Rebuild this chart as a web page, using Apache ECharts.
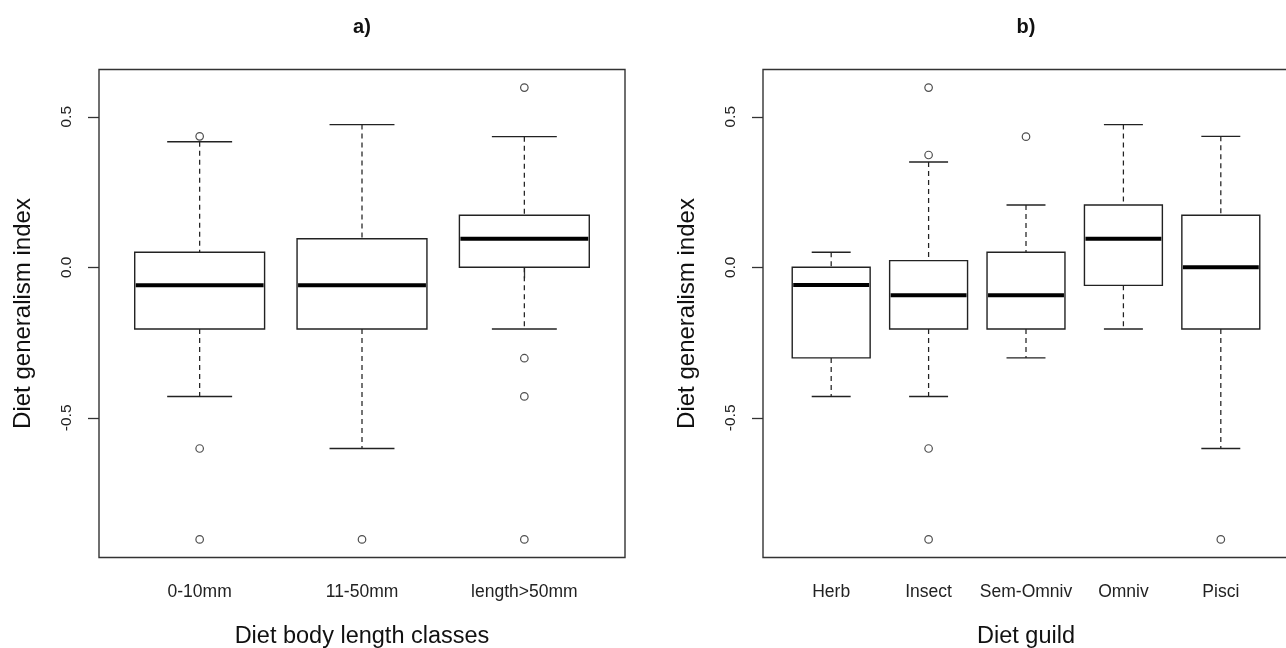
<!DOCTYPE html>
<html>
<head>
<meta charset="utf-8">
<script src="https://cdn.jsdelivr.net/npm/echarts@6/dist/echarts.min.js"></script>
<style>
html,body{margin:0;padding:0;background:#fff;}
#chart{width:1286px;height:648px;}
</style>
</head>
<body>
<div id="chart"></div>
<script>
// ---- Panel a) : Diet body length classes ----
const catsA = ['0-10mm', '11-50mm', 'length>50mm'];
const lowA  = [-0.429, -0.602, -0.205];
const q1A   = [-0.205, -0.205, 0.0];
const medA  = [-0.06, -0.06, 0.095];
const q3A   = [0.05, 0.095, 0.173];
const highA = [0.417, 0.474, 0.434];
const outCatA = [1, 1, 1, 2, 3, 3, 3, 3];
const outValA = [0.435, -0.602, -0.904, -0.904, 0.597, -0.302, -0.429, -0.904];

// ---- Panel b) : Diet guild ----
const catsB = ['Herb', 'Insect', 'Sem-Omniv', 'Omniv', 'Pisci'];
const lowB  = [-0.429, -0.429, -0.301, -0.205, -0.602];
const q1B   = [-0.301, -0.205, -0.205, -0.06, -0.205];
const medB  = [-0.059, -0.093, -0.093, 0.095, 0.0];
const q3B   = [0.0, 0.022, 0.05, 0.207, 0.173];
const highB = [0.05, 0.35, 0.207, 0.474, 0.435];
const outCatB = [2, 2, 2, 2, 3, 5];
const outValB = [0.597, 0.373, -0.602, -0.904, 0.434, -0.904];

const yTicks = [-0.5, 0, 0.5];
const titles = ['a)', 'b)'];
const xTitles = ['Diet body length classes', 'Diet guild'];
const yTitle = 'Diet generalism index';

// ---- build ----
const FONT = '"Liberation Sans", Arial, sans-serif';
const INK = '#222';

const allVals = [].concat(lowA, highA, outValA, lowB, highB, outValB);
const dMin = Math.min.apply(null, allVals), dMax = Math.max.apply(null, allVals);
const yPad = 0.04 * (dMax - dMin);
const yMin = dMin - yPad, yMax = dMax + yPad;

function boxData(low, q1, med, q3, high) {
  return low.map((v, i) => [i + 1, low[i], q1[i], med[i], q3[i], high[i]]);
}
function outData(cats, vals) {
  return cats.map((c, i) => [c, vals[i]]);
}

function renderBox(params, api) {
  const x = api.value(0);
  const lo = api.coord([x, api.value(1)]);
  const q1 = api.coord([x, api.value(2)]);
  const md = api.coord([x, api.value(3)]);
  const q3 = api.coord([x, api.value(4)]);
  const hi = api.coord([x, api.value(5)]);
  const bw = api.size([0.8, 0])[0];
  const sw = api.size([0.4, 0])[0];
  const cx = lo[0];
  const dash = {stroke: INK, lineWidth: 1.25, lineDash: [5, 4], fill: null};
  const solid = {stroke: INK, lineWidth: 1.4, fill: null};
  return {
    type: 'group',
    children: [
      {type: 'line', shape: {x1: cx, y1: hi[1], x2: cx, y2: q3[1]}, style: dash},
      {type: 'line', shape: {x1: cx, y1: q1[1], x2: cx, y2: lo[1]}, style: dash},
      {type: 'line', shape: {x1: cx - sw / 2, y1: hi[1], x2: cx + sw / 2, y2: hi[1]}, style: solid},
      {type: 'line', shape: {x1: cx - sw / 2, y1: lo[1], x2: cx + sw / 2, y2: lo[1]}, style: solid},
      {type: 'rect', shape: {x: cx - bw / 2, y: q3[1], width: bw, height: q1[1] - q3[1]},
        style: {fill: '#fff', stroke: INK, lineWidth: 1.4}},
      {type: 'line', shape: {x1: cx - bw / 2 + 1, y1: md[1], x2: cx + bw / 2 - 1, y2: md[1]},
        style: {stroke: '#000', lineWidth: 4}}
    ]
  };
}

function makeX(idx, cats) {
  const n = cats.length;
  const vals = cats.map((c, i) => i + 1);
  return {
    type: 'value', gridIndex: idx,
    min: 0.5 - 0.04 * n, max: n + 0.5 + 0.04 * n,
    axisLine: {show: false},
    splitLine: {show: false},
    axisTick: {show: true, customValues: vals, length: 11, lineStyle: {color: '#333', width: 1.3}},
    axisLabel: {customValues: vals, formatter: v => cats[Math.round(v) - 1] || '',
      fontSize: 17.5, fontFamily: FONT, color: INK, margin: 26},
    name: xTitles[idx], nameLocation: 'middle', nameGap: 67,
    nameTextStyle: {fontSize: 23.5, fontFamily: FONT, color: '#111'}
  };
}
function makeY(idx) {
  return {
    type: 'value', gridIndex: idx, min: yMin, max: yMax,
    axisLine: {show: false},
    splitLine: {show: false},
    axisTick: {show: true, customValues: yTicks, length: 11, lineStyle: {color: '#333', width: 1.3}},
    axisLabel: {customValues: yTicks, formatter: v => v.toFixed(1), rotate: 90,
      fontSize: 15.5, fontFamily: FONT, color: INK, margin: 24},
    name: yTitle, nameLocation: 'middle', nameGap: 64, nameRotate: 90,
    nameTextStyle: {fontSize: 24, fontFamily: FONT, color: '#111'}
  };
}

const gridStyle = {show: true, borderColor: '#333', borderWidth: 1.4, backgroundColor: 'transparent',
  containLabel: false, outerBoundsMode: 'none'};

const option = {
  backgroundColor: '#fff',
  animation: false,
  grid: [
    Object.assign({left: 99, top: 69.5, width: 526, height: 488}, gridStyle),
    Object.assign({left: 763, top: 69.5, width: 526, height: 488}, gridStyle)
  ],
  xAxis: [makeX(0, catsA), makeX(1, catsB)],
  yAxis: [makeY(0), makeY(1)],
  graphic: [
    {type: 'text', x: 362, y: 27, style: {text: titles[0], font: 'bold 20px ' + FONT, fill: '#111', textAlign: 'center', textVerticalAlign: 'middle'}},
    {type: 'text', x: 1026, y: 27, style: {text: titles[1], font: 'bold 20px ' + FONT, fill: '#111', textAlign: 'center', textVerticalAlign: 'middle'}}
  ],
  series: [
    {type: 'custom', xAxisIndex: 0, yAxisIndex: 0, renderItem: renderBox,
      encode: {x: 0, y: [1, 2, 3, 4, 5]}, data: boxData(lowA, q1A, medA, q3A, highA)},
    {type: 'custom', xAxisIndex: 1, yAxisIndex: 1, renderItem: renderBox,
      encode: {x: 0, y: [1, 2, 3, 4, 5]}, data: boxData(lowB, q1B, medB, q3B, highB)},
    {type: 'scatter', xAxisIndex: 0, yAxisIndex: 0, symbol: 'circle', symbolSize: 7.5, z: 5,
      itemStyle: {color: '#fff', borderColor: '#222', borderWidth: 1.2},
      data: outData(outCatA, outValA)},
    {type: 'scatter', xAxisIndex: 1, yAxisIndex: 1, symbol: 'circle', symbolSize: 7.5, z: 5,
      itemStyle: {color: '#fff', borderColor: '#222', borderWidth: 1.2},
      data: outData(outCatB, outValB)}
  ]
};

const chart = echarts.init(document.getElementById('chart'), null, {renderer: 'canvas'});
chart.setOption(option);
</script>
</body>
</html>
